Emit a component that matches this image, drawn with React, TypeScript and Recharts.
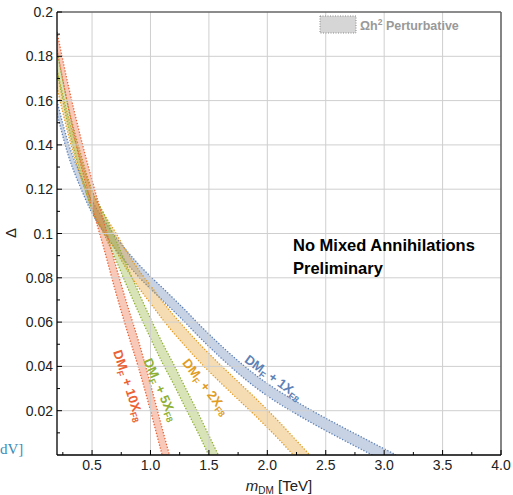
import React from 'react';
import { ComposedChart, Area, XAxis, YAxis, ReferenceLine, ReferenceDot } from 'recharts';

// dark matter mass grid [TeV]
const mass = [0.2, 0.3, 0.4, 0.5, 0.6, 0.7, 0.8, 0.9, 1.0, 1.1, 1.2, 1.3, 1.4, 1.5, 1.6, 1.7, 1.8, 1.9, 2.0, 2.1, 2.2, 2.3, 2.4, 2.5, 2.6, 2.7, 2.8, 2.9, 3.0, 3.1];

// Δ band edges (lower / upper) where Ωh² is reproduced, per number of X_F8 partners
const lowOne = [0.1542, 0.1347, 0.1209, 0.1092, 0.1007, 0.093, 0.0864, 0.0804, 0.075, 0.07, 0.0649, 0.0597, 0.0542, 0.049, 0.044, 0.0392, 0.0347, 0.0305, 0.0267, 0.0232, 0.02, 0.0169, 0.0139, 0.011, 0.0082, 0.0054, 0.0027, -0.0001, -0.0028, -0.0055];
const highOne = [0.1598, 0.1403, 0.1265, 0.1148, 0.1063, 0.0986, 0.092, 0.086, 0.0806, 0.0756, 0.0705, 0.0653, 0.0598, 0.0546, 0.0496, 0.0448, 0.0403, 0.0361, 0.0323, 0.0288, 0.0256, 0.0225, 0.0195, 0.0166, 0.0138, 0.011, 0.0083, 0.0055, 0.0028, 0.0001];

const lowTwo = [0.166, 0.144, 0.126, 0.111, 0.101, 0.0925, 0.0835, 0.0755, 0.0685, 0.0615, 0.055, 0.049, 0.0432, 0.0378, 0.0326, 0.0276, 0.0226, 0.0176, 0.0124, 0.007, 0.0013, -0.0044, -0.01];
const highTwo = [0.174, 0.152, 0.134, 0.119, 0.109, 0.1005, 0.0915, 0.0835, 0.0765, 0.0695, 0.063, 0.057, 0.0512, 0.0458, 0.0406, 0.0356, 0.0306, 0.0256, 0.0204, 0.015, 0.0093, 0.0036, -0.002];

const lowFive = [0.1735, 0.1475, 0.1275, 0.1105, 0.1, 0.0885, 0.0761, 0.0642, 0.0527, 0.0418, 0.0318, 0.0212, 0.0108, -0.0002, -0.011, -0.0215];
const highFive = [0.1825, 0.1565, 0.1365, 0.1195, 0.109, 0.0975, 0.0851, 0.0732, 0.0617, 0.0508, 0.0408, 0.0302, 0.0198, 0.0088, -0.002, -0.0125];

const lowTen = [0.183, 0.156, 0.132, 0.112, 0.0935, 0.074, 0.056, 0.039, 0.02, 0.0, -0.019];
const highTen = [0.191, 0.166, 0.144, 0.124, 0.1055, 0.086, 0.068, 0.051, 0.032, 0.012, -0.007];

const xMajor = [0.5, 1.0, 1.5, 2.0, 2.5, 3.0, 3.5, 4.0];
const xMinor = [0.25, 0.75, 1.25, 1.75, 2.25, 2.75, 3.25, 3.75];
const yMajor = [0.02, 0.04, 0.06, 0.08, 0.1, 0.12, 0.14, 0.16, 0.18, 0.2];
const yMinor = [0.01, 0.03, 0.05, 0.07, 0.09, 0.11, 0.13, 0.15, 0.17, 0.19];

const pair = (lo: number[], hi: number[], i: number) =>
  lo[i] === undefined ? null : [lo[i], hi[i]];

const table = mass.map((m, i) => ({
  mass: m,
  one: pair(lowOne, highOne, i),
  two: pair(lowTwo, highTwo, i),
  five: pair(lowFive, highFive, i),
  ten: pair(lowTen, highTen, i),
}));

const bands = [
  { key: 'one', n: '1', color: '#5E81B5', at: [2.05, 0.0348], angle: 36 },
  { key: 'two', n: '2', color: '#E19C24', at: [1.47, 0.0307], angle: 52 },
  { key: 'five', n: '5', color: '#8FB032', at: [1.085, 0.0295], angle: 66 },
  { key: 'ten', n: '10', color: '#EB6235', at: [0.81, 0.0312], angle: 72 },
];

const FONT = "'Liberation Sans', Arial, sans-serif";

const XTick = ({ x, y, payload }: any) => {
  const major = xMajor.includes(payload.value);
  return (
    <g>
      <line x1={x} x2={x} y1={y} y2={y - (major ? 5 : 3)} stroke="#000" strokeWidth={1} />
      {major && (
        <text x={x} y={y + 15} textAnchor="middle" fontSize={14} fill="#222" fontFamily={FONT}>
          {payload.value.toFixed(1)}
        </text>
      )}
    </g>
  );
};

const YTick = ({ x, y, payload }: any) => {
  const major = yMajor.includes(payload.value);
  return (
    <g>
      <line x1={x} x2={x + (major ? 5 : 3)} y1={y} y2={y} stroke="#000" strokeWidth={1} />
      {major && (
        <text x={x - 4} y={y + 5} textAnchor="end" fontSize={14} fill="#222" fontFamily={FONT}>
          {String(payload.value)}
        </text>
      )}
    </g>
  );
};

const bandLabel = (n: string, color: string, angle: number) => (p: any) => (
  <text
    transform={`translate(${p.cx},${p.cy}) rotate(${angle})`}
    textAnchor="middle"
    dy={4}
    fontSize={13}
    fontWeight="bold"
    fill={color}
    fontFamily={FONT}
  >
    DM<tspan dy={3} fontSize={9}>F</tspan>
    <tspan dy={-3}>{` + ${n}X`}</tspan>
    <tspan dy={3} fontSize={9}>F8</tspan>
  </text>
);

export default function App() {
  return (
    <div style={{ position: 'absolute', left: 0, top: 0, width: 513, height: 495 }}>
      <ComposedChart
        width={513}
        height={495}
        data={table}
        margin={{ top: 12, right: 12, bottom: 0, left: 0 }}
      >
        <XAxis
          dataKey="mass"
          type="number"
          domain={[0.2, 4]}
          allowDataOverflow
          ticks={[...xMinor, ...xMajor].sort((a, b) => a - b)}
          interval={0}
          tickSize={0}
          tickMargin={0}
          tick={<XTick />}
          height={40}
          axisLine={{ stroke: '#000', strokeWidth: 1.3 }}
        />
        <YAxis
          type="number"
          domain={[0, 0.2]}
          allowDataOverflow
          ticks={[...yMinor, ...yMajor].sort((a, b) => a - b)}
          interval={0}
          tickSize={0}
          tickMargin={0}
          tick={<YTick />}
          width={57}
          axisLine={{ stroke: '#000', strokeWidth: 1.3 }}
        />
        {xMajor.filter((v) => v < 4).map((v) => (
          <ReferenceLine key={`gx${v}`} x={v} stroke="#cfcfcf" strokeWidth={1} />
        ))}
        {yMajor.filter((v) => v < 0.2).map((v) => (
          <ReferenceLine key={`gy${v}`} y={v} stroke="#cfcfcf" strokeWidth={1} />
        ))}
        {bands.map((b) => (
          <Area
            key={b.key}
            dataKey={b.key}
            type="monotone"
            stroke={b.color}
            strokeWidth={1.3}
            strokeDasharray="1.3 1.7"
            fill={b.color}
            fillOpacity={0.35}
            dot={false}
            activeDot={false}
            isAnimationActive={false}
          />
        ))}
        <ReferenceLine y={0.2} stroke="#666" strokeWidth={1.6} />
        <ReferenceLine x={4} stroke="#666" strokeWidth={1.6} />
        {bands.map((b) => (
          <ReferenceDot
            key={`lbl${b.key}`}
            x={b.at[0]}
            y={b.at[1]}
            r={0}
            shape={bandLabel(b.n, b.color, b.angle)}
          />
        ))}
      </ComposedChart>
      <svg
        width={513}
        height={495}
        style={{ position: 'absolute', left: 0, top: 0, pointerEvents: 'none' }}
      >
        <text x={11} y={233} transform="rotate(-90 11 233)" textAnchor="middle" dy={5} fontSize={15} fill="#222" fontFamily={FONT}>
          Δ
        </text>
        <text x={279} y={491} textAnchor="middle" fontSize={15} fill="#222" fontFamily={FONT}>
          <tspan fontStyle="italic">m</tspan>
          <tspan dy={3} fontSize={10}>DM</tspan>
          <tspan dy={-3}> [TeV]</tspan>
        </text>
        <rect x={320} y={16} width={36} height={17} fill="#d6d6d6" stroke="#8a8a8a" strokeWidth={1} strokeDasharray="1 1.5" />
        <text x={360} y={30} fontSize={12.5} fontWeight="bold" fill="#999" fontFamily={FONT}>
          Ωh<tspan dy={-5} fontSize={8.5}>2</tspan>
          <tspan dy={5}> Perturbative</tspan>
        </text>
        <text x={293} y={251} fontSize={16.5} fontWeight="bold" fill="#000" fontFamily={FONT}>
          No Mixed Annihilations
        </text>
        <text x={293} y={274} fontSize={16.5} fontWeight="bold" fill="#000" fontFamily={FONT}>
          Preliminary
        </text>
        <text x={0} y={454} fontSize={15} fill="#3b8bb5" fontFamily="'Liberation Serif', serif">
          dV]
        </text>
      </svg>
    </div>
  );
}
